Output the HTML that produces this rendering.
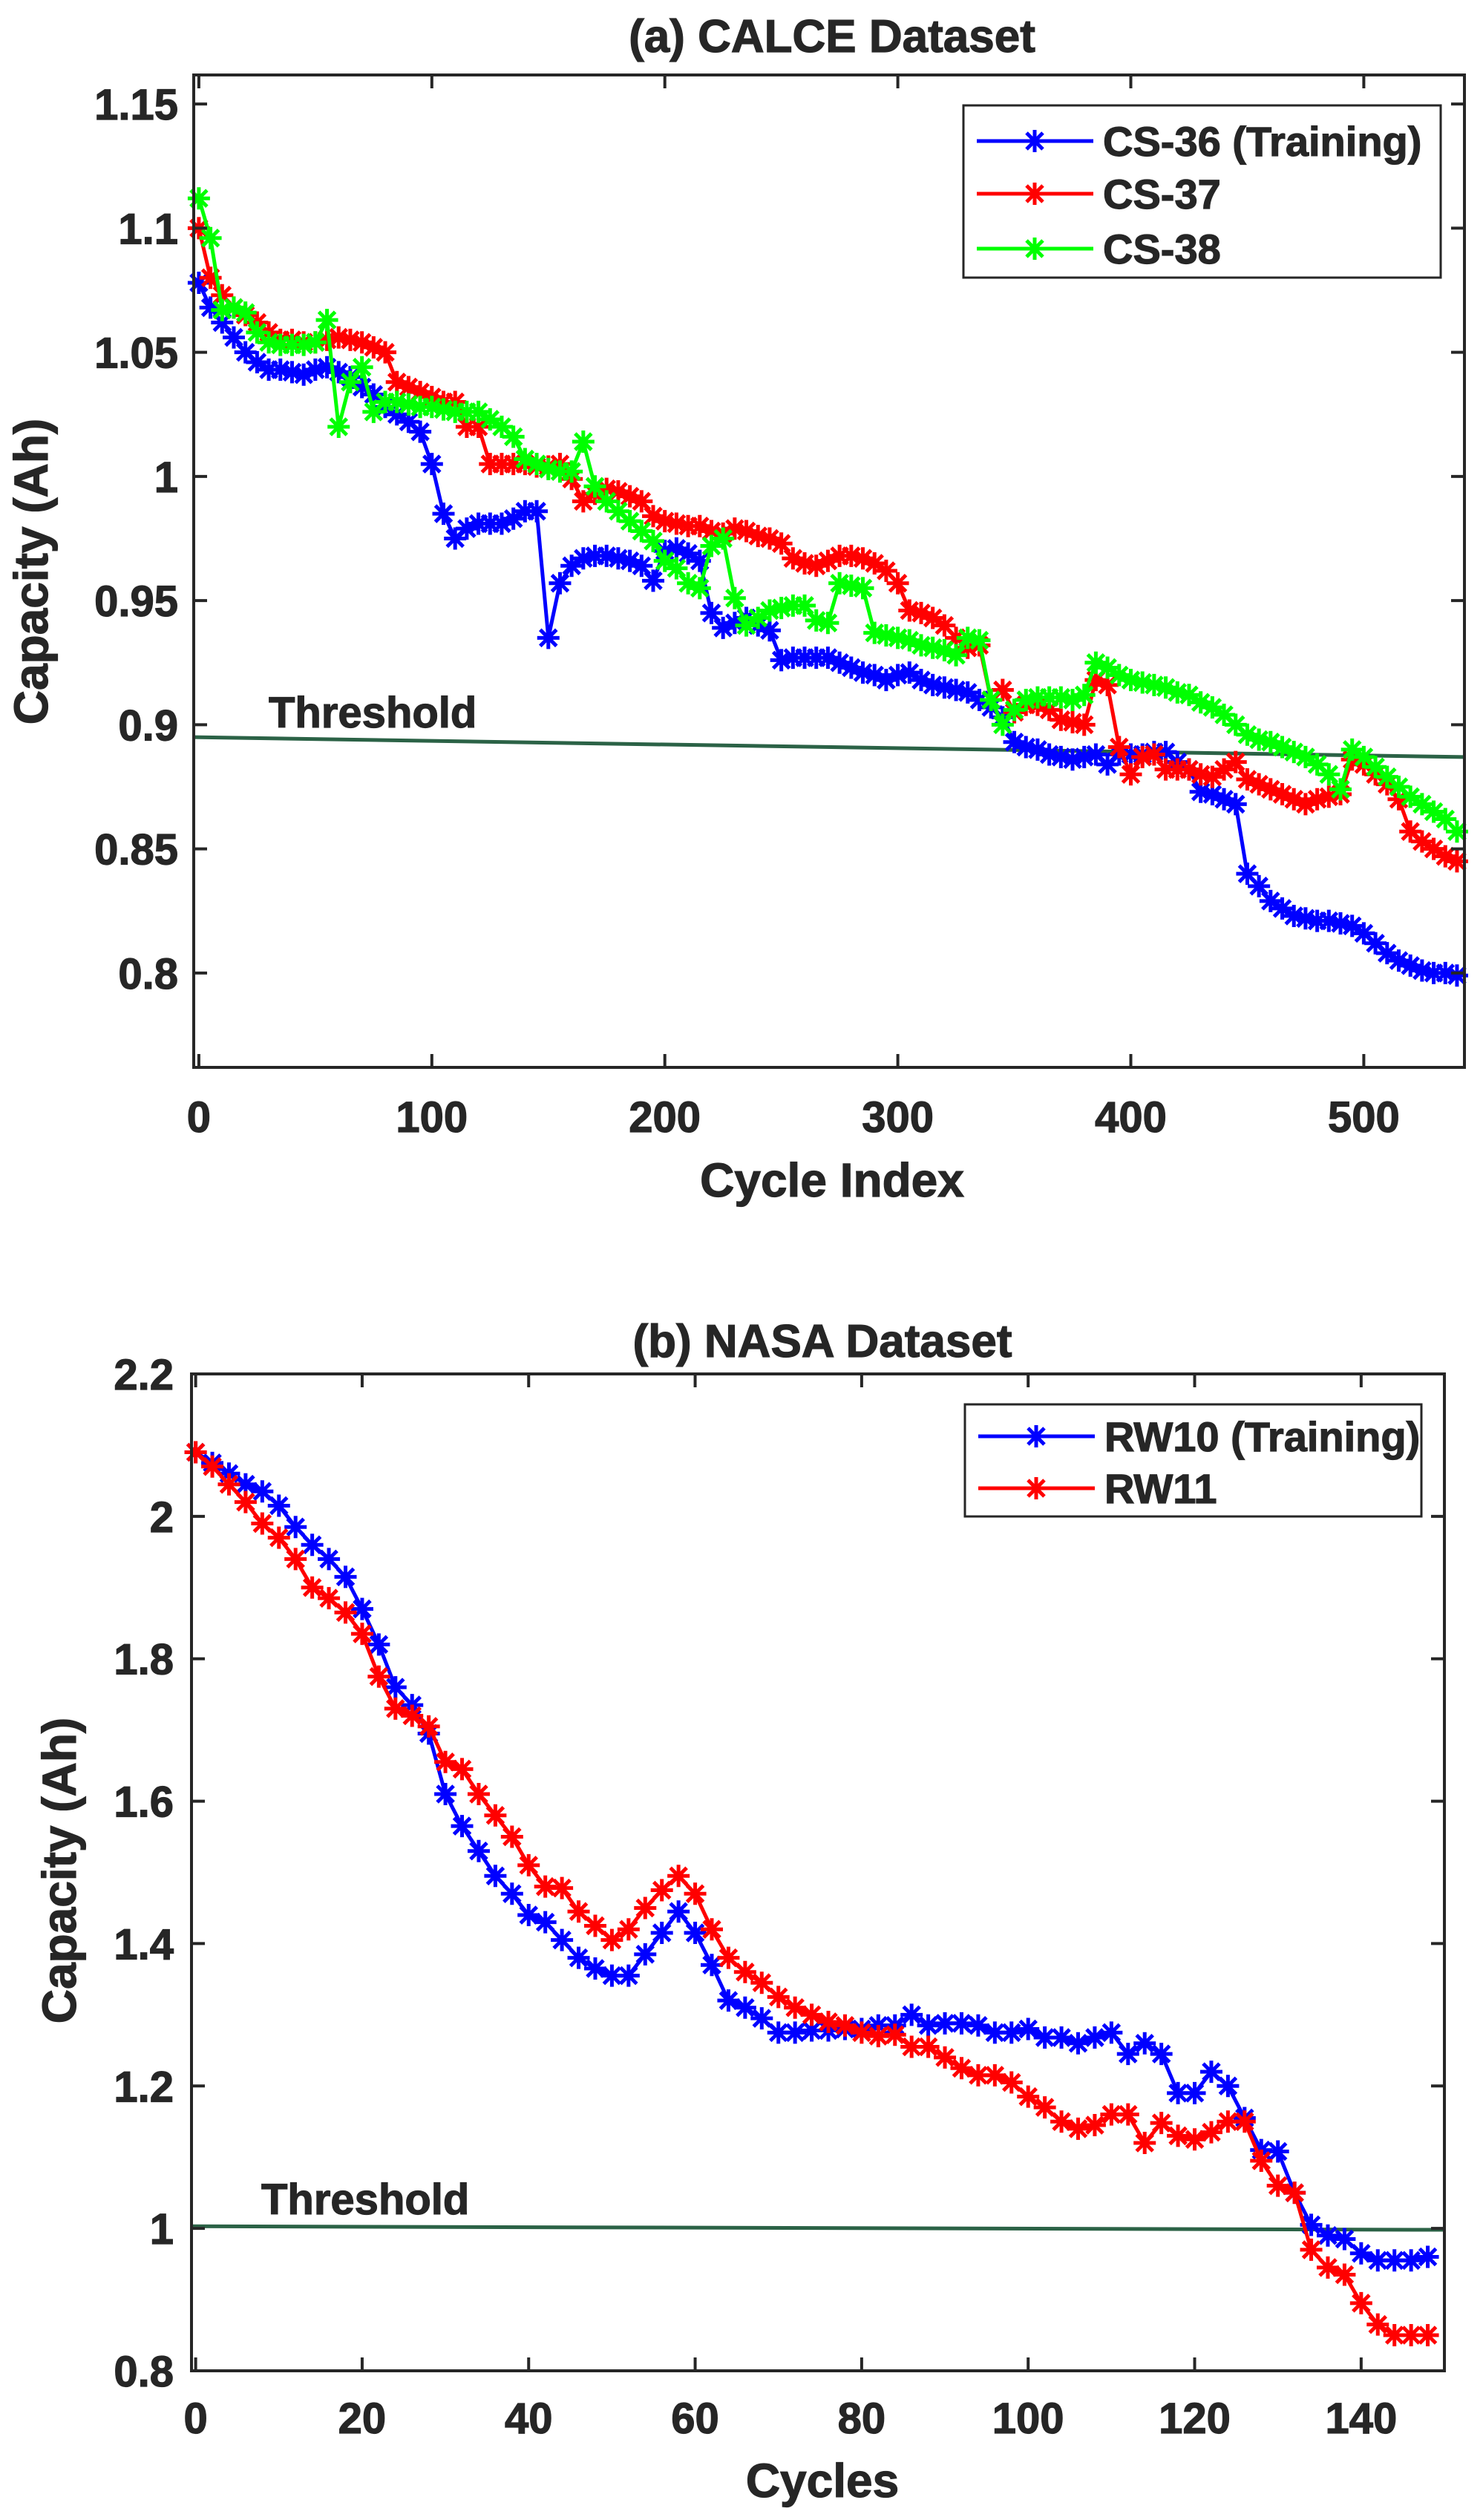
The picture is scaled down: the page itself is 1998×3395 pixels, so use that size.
<!DOCTYPE html>
<html><head><meta charset="utf-8"><style>
html,body{margin:0;padding:0;background:#fff}
svg{display:block}
text{font-family:"Liberation Sans",Arial,sans-serif;font-weight:bold;fill:#262626}
</style></head><body>
<svg id="chart" width="1998" height="3395" viewBox="0 0 1998 3395" xmlns="http://www.w3.org/2000/svg">
<rect width="1998" height="3395" fill="#fff"/>
<g id="pa"></g>
<g id="pb"></g>
</svg>
<script>
const NS="http://www.w3.org/2000/svg";
// ---- Panel A data ----
const aX=[0,5,10,15,20,25,30,35,40,45,50,55,60,65,70,75,80,85,90,95,100,105,110,115,120,125,130,135,140,145,150,155,160,165,170,175,180,185,190,195,200,205,210,215,220,225,230,235,240,245,250,255,260,265,270,275,280,285,290,295,300,305,310,315,320,325,330,335,340,345,350,355,360,365,370,375,380,385,390,395,400,405,410,415,420,425,430,435,440,445,450,455,460,465,470,475,480,485,490,495,500,505,510,515,520,525,530,535,540];
const cs36=[1.078,1.068,1.062,1.056,1.05,1.046,1.043,1.043,1.042,1.041,1.043,1.044,1.042,1.04,1.036,1.033,1.028,1.025,1.022,1.018,1.005,0.985,0.975,0.979,0.981,0.981,0.981,0.983,0.986,0.986,0.935,0.957,0.964,0.967,0.968,0.968,0.967,0.966,0.964,0.958,0.97,0.971,0.969,0.966,0.945,0.939,0.941,0.943,0.94,0.938,0.926,0.927,0.927,0.927,0.927,0.925,0.923,0.921,0.92,0.918,0.92,0.921,0.918,0.916,0.915,0.914,0.913,0.91,0.907,0.903,0.893,0.891,0.89,0.888,0.887,0.886,0.887,0.888,0.884,0.888,0.888,0.888,0.889,0.889,0.885,0.882,0.873,0.872,0.87,0.868,0.84,0.835,0.829,0.826,0.823,0.822,0.821,0.821,0.82,0.819,0.816,0.812,0.808,0.805,0.803,0.801,0.8,0.8,0.799];
const cs37=[1.1,1.08,1.073,1.068,1.065,1.062,1.058,1.055,1.055,1.054,1.054,1.055,1.056,1.055,1.054,1.052,1.05,1.038,1.036,1.034,1.032,1.03,1.03,1.02,1.02,1.005,1.005,1.005,1.005,1.004,1.004,1.005,0.999,0.99,0.993,0.995,0.994,0.992,0.99,0.984,0.982,0.981,0.98,0.98,0.978,0.977,0.979,0.978,0.976,0.975,0.973,0.967,0.965,0.964,0.966,0.968,0.968,0.967,0.965,0.962,0.957,0.946,0.945,0.943,0.94,0.935,0.931,0.932,0.91,0.914,0.905,0.908,0.908,0.906,0.902,0.901,0.9,0.918,0.916,0.891,0.88,0.887,0.888,0.882,0.882,0.882,0.88,0.879,0.882,0.885,0.878,0.876,0.874,0.872,0.87,0.868,0.87,0.871,0.872,0.886,0.884,0.88,0.876,0.87,0.857,0.853,0.85,0.847,0.845];
const cs38=[1.112,1.096,1.067,1.068,1.066,1.058,1.054,1.053,1.053,1.053,1.054,1.063,1.02,1.038,1.044,1.026,1.03,1.03,1.029,1.028,1.028,1.027,1.026,1.026,1.026,1.023,1.02,1.016,1.007,1.005,1.003,1.002,1.002,1.014,0.996,0.99,0.986,0.982,0.978,0.974,0.966,0.963,0.957,0.955,0.972,0.975,0.951,0.94,0.943,0.946,0.947,0.948,0.948,0.942,0.941,0.957,0.956,0.955,0.937,0.936,0.935,0.934,0.932,0.931,0.93,0.928,0.935,0.934,0.91,0.9,0.906,0.91,0.911,0.911,0.911,0.91,0.912,0.925,0.923,0.92,0.918,0.917,0.916,0.915,0.913,0.912,0.909,0.907,0.904,0.9,0.896,0.894,0.893,0.891,0.889,0.887,0.884,0.88,0.874,0.89,0.887,0.883,0.879,0.875,0.871,0.868,0.865,0.862,0.857];
const aThreshX=[-2,543];
const aThreshY=[0.895,0.887];
const aXTicks=[0,100,200,300,400,500];
const aYTicks=[0.8,0.85,0.9,0.95,1,1.05,1.1,1.15];
const aYTickLabels=["0.8","0.85","0.9","0.95","1","1.05","1.1","1.15"];
// ---- Panel B data ----
const bX=[0,2,4,6,8,10,12,14,16,18,20,22,24,26,28,30,32,34,36,38,40,42,44,46,48,50,52,54,56,58,60,62,64,66,68,70,72,74,76,78,80,82,84,86,88,90,92,94,96,98,100,102,104,106,108,110,112,114,116,118,120,122,124,126,128,130,132,134,136,138,140,142,144,146,148];
const rw10=[2.09,2.075,2.06,2.045,2.035,2.015,1.985,1.96,1.94,1.915,1.87,1.82,1.76,1.735,1.695,1.61,1.565,1.53,1.495,1.47,1.44,1.43,1.405,1.38,1.365,1.355,1.355,1.385,1.415,1.445,1.415,1.37,1.32,1.31,1.295,1.275,1.275,1.278,1.278,1.28,1.28,1.285,1.285,1.3,1.285,1.288,1.288,1.285,1.275,1.275,1.28,1.268,1.268,1.26,1.268,1.275,1.245,1.26,1.245,1.19,1.19,1.22,1.2,1.155,1.11,1.108,1.05,1.005,0.99,0.985,0.965,0.955,0.955,0.955,0.96];
const rw11=[2.09,2.07,2.045,2.02,1.99,1.97,1.94,1.9,1.885,1.865,1.835,1.775,1.73,1.72,1.705,1.655,1.645,1.61,1.58,1.55,1.51,1.48,1.478,1.445,1.425,1.405,1.42,1.45,1.475,1.495,1.47,1.42,1.38,1.36,1.345,1.325,1.31,1.3,1.29,1.285,1.275,1.27,1.272,1.255,1.255,1.24,1.225,1.215,1.215,1.205,1.185,1.17,1.15,1.14,1.145,1.16,1.16,1.12,1.148,1.13,1.125,1.135,1.15,1.15,1.095,1.06,1.05,0.97,0.945,0.935,0.895,0.865,0.85,0.85,0.85];
const bThreshX=[-0.5,150];
const bThreshY=[1.003,0.998];
const bXTicks=[0,20,40,60,80,100,120,140];
const bYTicks=[0.8,1,1.2,1.4,1.6,1.8,2,2.2];
const bYTickLabels=["0.8","1","1.2","1.4","1.6","1.8","2","2.2"];

function el(parent,tag,attrs,txt){const e=document.createElementNS(NS,tag);for(const k in attrs)e.setAttribute(k,attrs[k]);if(txt!==undefined)e.textContent=txt;parent.appendChild(e);return e;}

function marker(g,cx,cy,col){
  const r=15,d=11;
  const p=document.createElementNS(NS,'path');
  p.setAttribute('d',`M${cx-r},${cy}H${cx+r}M${cx},${cy-r}V${cy+r}M${cx-d},${cy-d}L${cx+d},${cy+d}M${cx-d},${cy+d}L${cx+d},${cy-d}`);
  p.setAttribute('stroke',col);p.setAttribute('stroke-width','5');p.setAttribute('fill','none');
  
  
  g.appendChild(p);
}

function panel(g,o){
  const sx=v=>o.L+(v-o.x0)/(o.x1-o.x0)*(o.R-o.L);
  const sy=v=>o.B-(v-o.y0)/(o.y1-o.y0)*(o.B-o.T);
  const th=el(g,'line',{x1:sx(o.thX[0]),y1:sy(o.thY[0]),x2:sx(o.thX[1]),y2:sy(o.thY[1]),stroke:'#2b6246','stroke-width':5});
  
  
  const tt=el(g,'text',{x:o.thTx,y:o.thTy,'font-size':o.fs,stroke:'#262626','stroke-width':1.2},'Threshold');
  
  
  o.series.forEach(s=>{
    const sg=el(g,'g',{});
    
    
    const pts=o.xs.map((x,i)=>sx(x).toFixed(1)+','+sy(s.ys[i]).toFixed(1)).join(' ');
    const pl=el(sg,'polyline',{points:pts,fill:'none',stroke:s.col,'stroke-width':5,'stroke-linejoin':'round'});
    
    
    o.xs.forEach((x,i)=>marker(sg,sx(x),sy(s.ys[i]),s.col));
  });
  const bx=el(g,'rect',{x:o.L,y:o.T,width:o.R-o.L,height:o.B-o.T,fill:'none',stroke:'#262626','stroke-width':4});
  
  
  o.xt.forEach(v=>{
    const x=sx(v);
    el(g,'path',{d:`M${x},${o.B}v-18M${x},${o.T}v18`,stroke:'#262626','stroke-width':4});
    const t=el(g,'text',{x:x,y:o.xtY,'font-size':o.fs,'text-anchor':'middle',stroke:'#262626','stroke-width':1.2},String(v));
    
    
  });
  o.yt.forEach((v,i)=>{
    const y=sy(v);
    el(g,'path',{d:`M${o.L},${y}h18M${o.R},${y}h-18`,stroke:'#262626','stroke-width':4});
    const t=el(g,'text',{x:o.ytX,y:y+21,'font-size':o.fs,'text-anchor':'end',stroke:'#262626','stroke-width':1.2},o.ytl[i]);
    
    
  });
  const ti=el(g,'text',{x:o.cx,y:o.titleY,'font-size':o.fs+4,'text-anchor':'middle',stroke:'#262626','stroke-width':1.2},o.title);
  
  
  const xl=el(g,'text',{x:o.cx,y:o.xlY,'font-size':o.fs+6,'text-anchor':'middle',stroke:'#262626','stroke-width':1.2},o.xlabel);
  
  
  const yl=el(g,'text',{x:0,y:0,'font-size':o.fs+6,'text-anchor':'middle',stroke:'#262626','stroke-width':1.2,transform:`translate(${o.ylX},${o.ylY}) rotate(-90)`},'Capacity (Ah)');
  
  
  const lg=el(g,'g',{});
  
  
  el(lg,'rect',{x:o.lg.x,y:o.lg.y,width:o.lg.w,height:o.lg.h,fill:'#fff',stroke:'#262626','stroke-width':3});
  o.series.forEach((s,i)=>{
    const y=o.lg.e[i];
    const le=el(lg,'g',{});
    
    
    el(le,'line',{x1:o.lg.x+18,y1:y,x2:o.lg.x+175,y2:y,stroke:s.col,'stroke-width':5});
    marker(le,o.lg.x+96,y,s.col);
    el(le,'text',{x:o.lg.x+188,y:y+20,'font-size':o.fs-2,stroke:'#262626','stroke-width':1.2},s.label);
  });
}

panel(document.getElementById('pa'),{
  L:261,R:1973,T:101,B:1438,x0:-2.2,x1:543.2,y0:0.762,y1:1.1617,
  xs:aX,series:[{name:'cs-36',ys:cs36,col:'#0000ff',label:'CS-36 (Training)'},{name:'cs-37',ys:cs37,col:'#ff0000',label:'CS-37'},{name:'cs-38',ys:cs38,col:'#00ff00',label:'CS-38'}],
  thX:aThreshX,thY:aThreshY,thTx:362,thTy:980,
  xt:aXTicks,yt:aYTicks,ytl:aYTickLabels,fs:58,xtY:1525,ytX:240,
  title:'(a) CALCE Dataset',titleY:70,cx:1121,xlabel:'Cycle Index',xlY:1612,ylX:64,ylY:770,
  lg:{x:1298,y:142,w:643,h:232,e:[190,261,335]}
});
panel(document.getElementById('pb'),{
  L:258,R:1946,T:1851,B:3194,x0:-0.5,x1:150,y0:0.8,y1:2.2,
  xs:bX,series:[{name:'rw10',ys:rw10,col:'#0000ff',label:'RW10 (Training)'},{name:'rw11',ys:rw11,col:'#ff0000',label:'RW11'}],
  thX:bThreshX,thY:bThreshY,thTx:352,thTy:2983,
  xt:bXTicks,yt:bYTicks,ytl:bYTickLabels,fs:58,xtY:3278,ytX:234,
  title:'(b) NASA Dataset',titleY:1828,cx:1108,xlabel:'Cycles',xlY:3364,ylX:102,ylY:2520,
  lg:{x:1300,y:1892,w:615,h:151,e:[1935,2005]}
});
</script>
</body></html>
